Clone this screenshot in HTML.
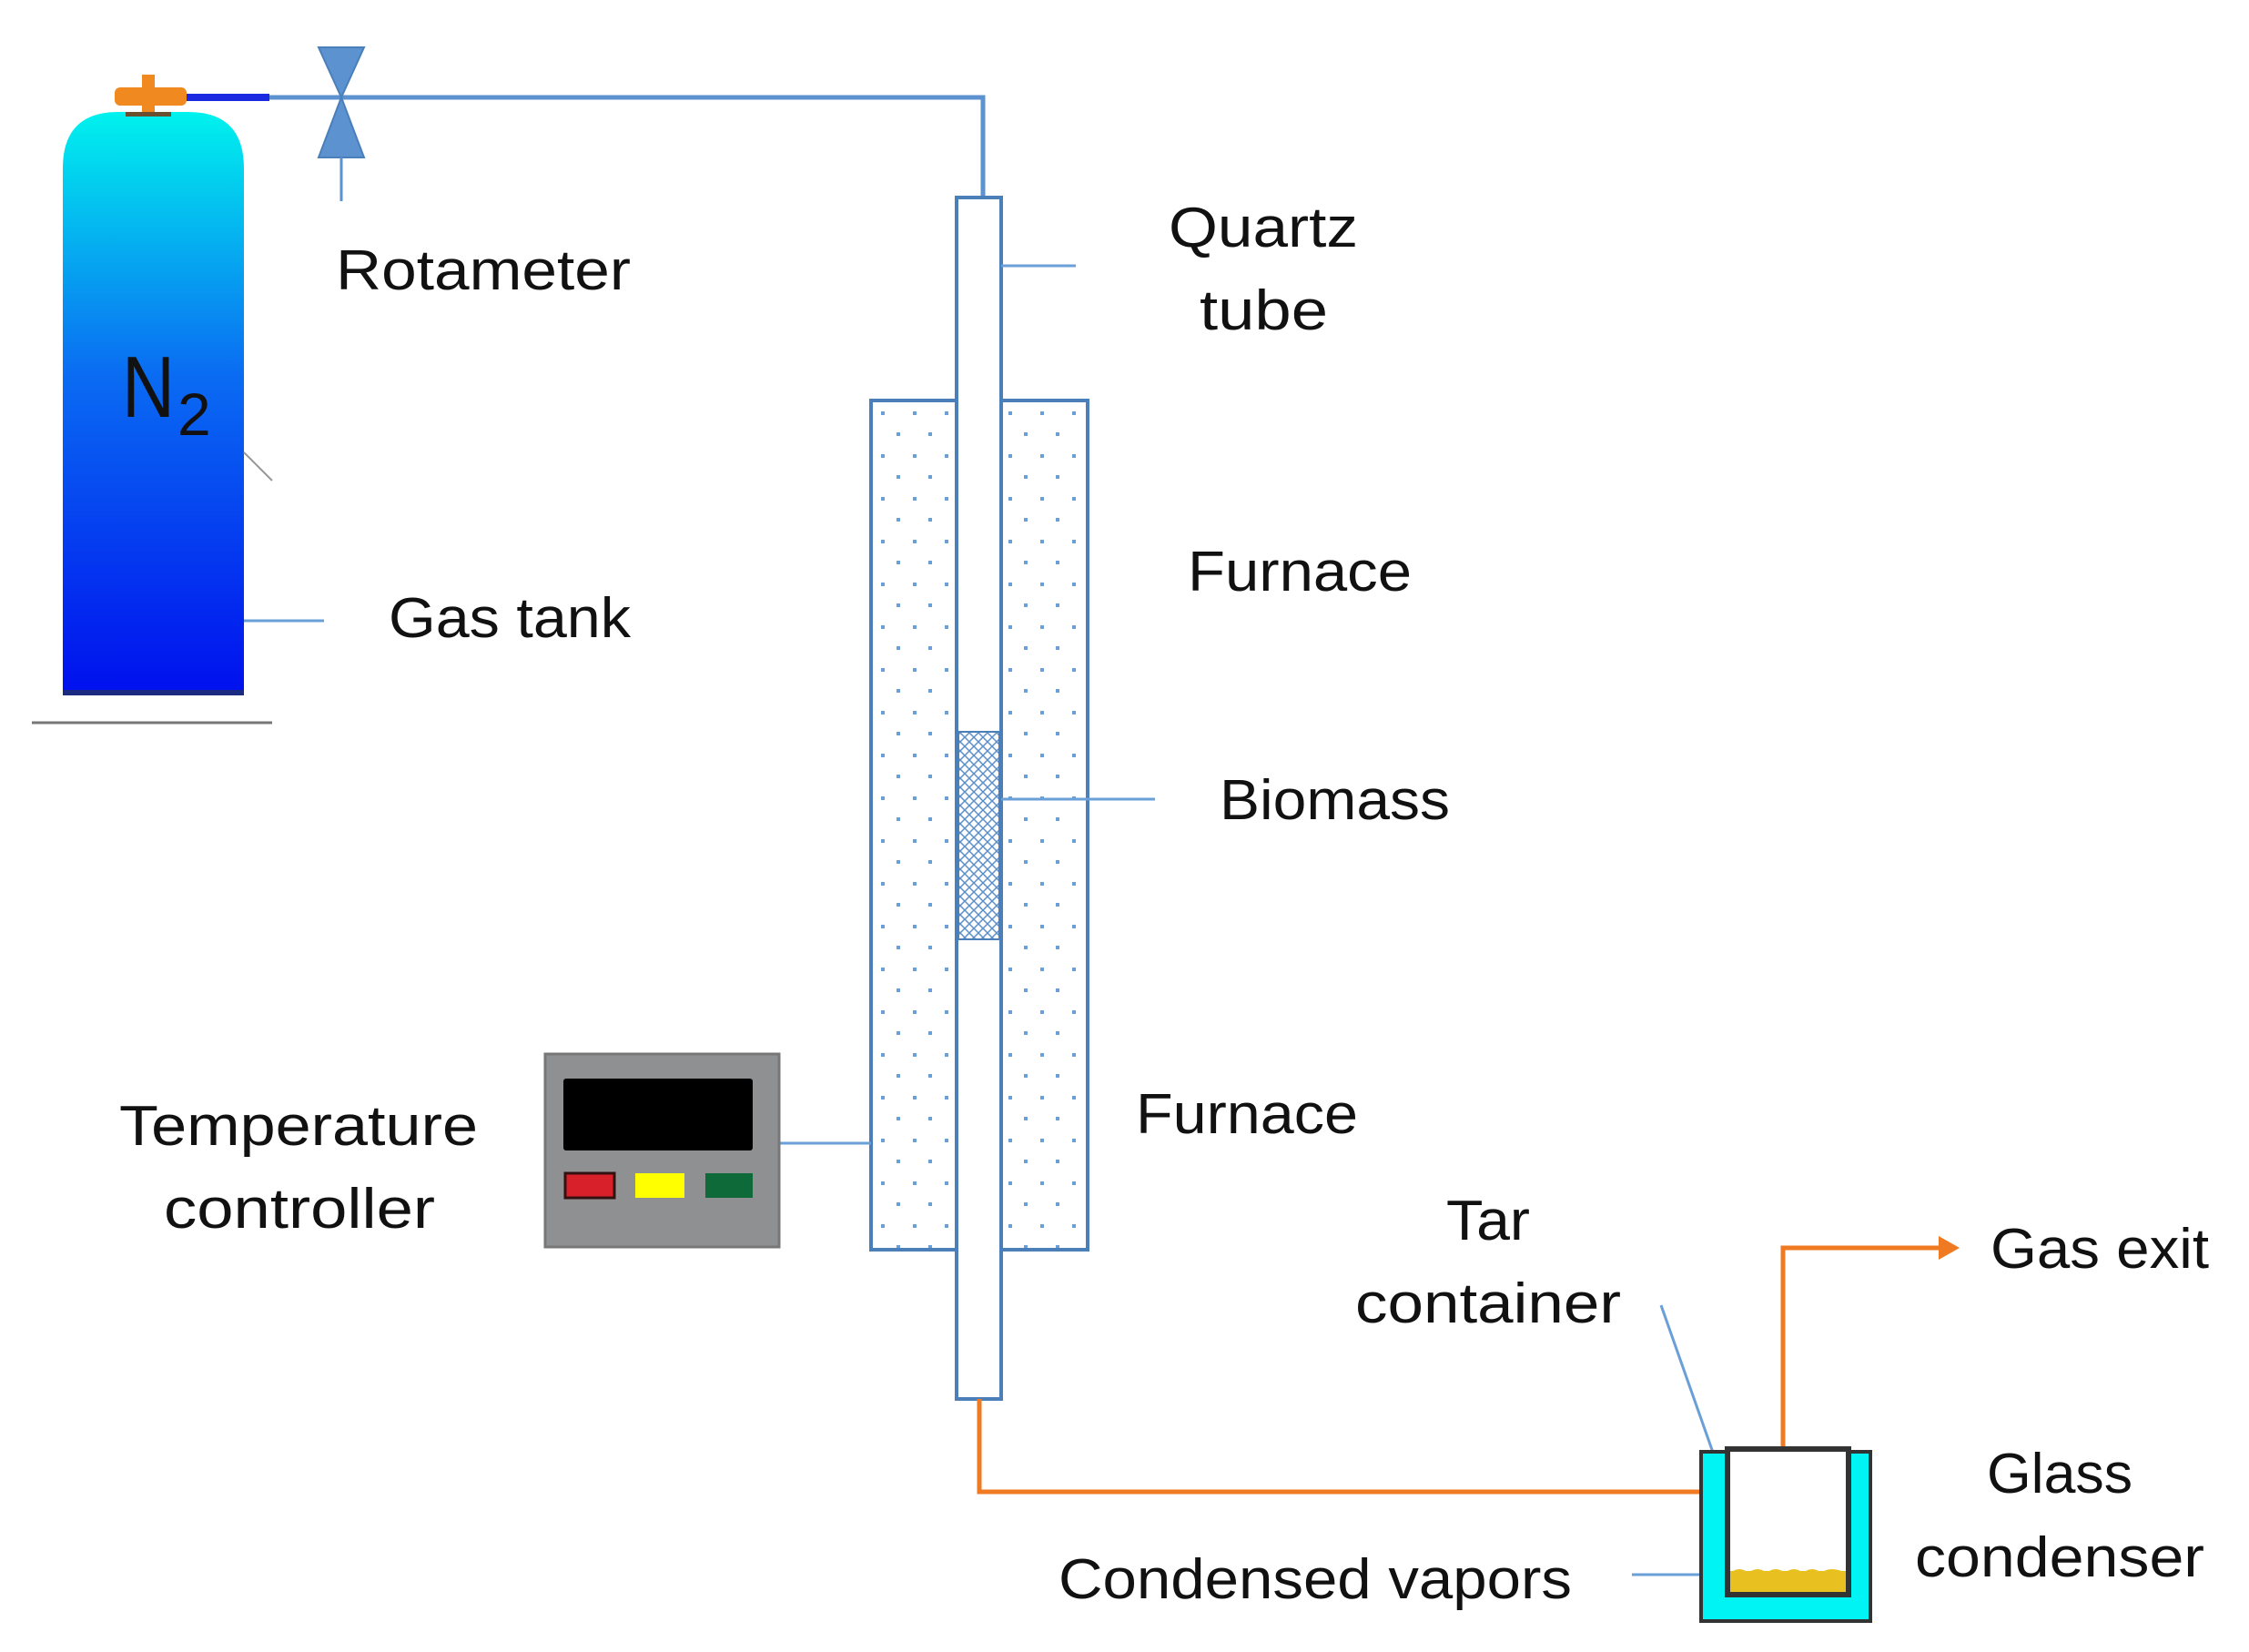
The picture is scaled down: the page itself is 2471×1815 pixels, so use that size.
<!DOCTYPE html>
<html><head><meta charset="utf-8"><style>html,body{margin:0;padding:0;background:#fff}svg{display:block}</style></head>
<body>
<svg width="2471" height="1815" viewBox="0 0 2471 1815" xmlns="http://www.w3.org/2000/svg" font-family="Liberation Sans, sans-serif" fill="#111">
<defs>
<linearGradient id="tg" x1="0" y1="0" x2="0" y2="1">
<stop offset="0" stop-color="#00f2ee"/><stop offset="0.45" stop-color="#0a6cf2"/><stop offset="1" stop-color="#0010ee"/></linearGradient>
<pattern id="dots" width="35" height="47" patternUnits="userSpaceOnUse" x="968" y="452">
<rect x="0" y="0" width="4" height="4" fill="#6a9fd8"/><rect x="17" y="23" width="4" height="4" fill="#6a9fd8"/></pattern>
<pattern id="hatch" width="10" height="10" patternUnits="userSpaceOnUse">
<path d="M0 0L10 10M10 0L0 10" stroke="#5b8fc8" stroke-width="1.5"/></pattern>
</defs>
<path d="M69 763 L69 185 Q69 123 130 123 L207 123 Q268 123 268 185 L268 763 Z" fill="url(#tg)"/>
<rect x="69" y="758" width="199" height="6" fill="#1a2a80"/>
<line x1="35" y1="794" x2="299" y2="794" stroke="#777" stroke-width="3"/>
<line x1="268" y1="497" x2="299" y2="528" stroke="#999" stroke-width="2"/>
<text x="134" y="458" font-size="96" textLength="58" lengthAdjust="spacingAndGlyphs">N</text><text x="195" y="478" font-size="66">2</text>
<rect x="126" y="96" width="79" height="20" rx="6" fill="#f08a20"/>
<rect x="156" y="82" width="14" height="44" fill="#f08a20"/>
<rect x="138" y="123" width="50" height="5" fill="#6b5030"/>
<rect x="205" y="103" width="91" height="8" fill="#1a2ae0"/>
<polyline points="296,107 1080,107 1080,217" fill="none" stroke="#5b92cf" stroke-width="5"/>
<polygon points="350,52 400,52 375,107" fill="#5b92cf" stroke="#4a7fba" stroke-width="2"/>
<polygon points="350,173 400,173 375,107" fill="#5b92cf" stroke="#4a7fba" stroke-width="2"/>
<line x1="375" y1="173" x2="375" y2="221" stroke="#5b92cf" stroke-width="3"/>
<rect x="957" y="440" width="238" height="933" fill="url(#dots)" stroke="#4a7fba" stroke-width="4"/>
<rect x="1051" y="217" width="49" height="1320" fill="#fff" stroke="#4a7fba" stroke-width="4"/>
<rect x="1053" y="804" width="45" height="228" fill="#fff"/>
<rect x="1053" y="804" width="45" height="228" fill="url(#hatch)" stroke="#4a7fba" stroke-width="2"/>
<g stroke="#6a9fd8" stroke-width="3">
<line x1="268" y1="682" x2="356" y2="682"/>
<line x1="1100" y1="292" x2="1182" y2="292"/>
<line x1="1100" y1="878" x2="1269" y2="878"/>
<line x1="856" y1="1256" x2="957" y2="1256"/>
<line x1="1825" y1="1434" x2="1886" y2="1607"/>
<line x1="1793" y1="1730" x2="1899" y2="1730"/>
</g>
<rect x="599" y="1158" width="257" height="212" fill="#8f9092" stroke="#777" stroke-width="3"/>
<rect x="619" y="1185" width="208" height="79" rx="3" fill="#000"/>
<rect x="621" y="1289" width="54" height="27" fill="#d8202a" stroke="#311" stroke-width="3"/>
<rect x="698" y="1289" width="54" height="27" fill="#ffff00"/>
<rect x="775" y="1289" width="52" height="27" fill="#0f6a3a"/>
<polyline points="1076,1537 1076,1639 1869,1639" fill="none" stroke="#f07a22" stroke-width="5"/>
<polyline points="1959,1592 1959,1371 2135,1371" fill="none" stroke="#f07a22" stroke-width="5"/>
<polygon points="2130,1358 2153,1371 2130,1384" fill="#f07a22"/>
<rect x="1869" y="1595" width="186" height="186" fill="#00f4f4" stroke="#333" stroke-width="4"/>
<rect x="1898" y="1592" width="133" height="160" fill="#fff" stroke="#333" stroke-width="6"/>
<rect x="1901" y="1726" width="127" height="23" fill="#e8c020"/>
<path d="M1901 1728 q10 -8 20 0 q10 -8 20 0 q10 -8 20 0 q10 -8 20 0 q10 -8 20 0 q10 -8 27 0" fill="#e8c020"/>
<g font-size="62">
<text x="369" y="318" textLength="324" lengthAdjust="spacingAndGlyphs">Rotameter</text>
<text x="427" y="700" textLength="266" lengthAdjust="spacingAndGlyphs">Gas tank</text>
<text x="1284" y="271" textLength="208" lengthAdjust="spacingAndGlyphs">Quartz</text>
<text x="1318" y="362" textLength="141" lengthAdjust="spacingAndGlyphs">tube</text>
<text x="1305" y="649" textLength="246" lengthAdjust="spacingAndGlyphs">Furnace</text>
<text x="1340" y="900" textLength="253" lengthAdjust="spacingAndGlyphs">Biomass</text>
<text x="1248" y="1245" textLength="244" lengthAdjust="spacingAndGlyphs">Furnace</text>
<text x="131" y="1258" textLength="394" lengthAdjust="spacingAndGlyphs">Temperature</text>
<text x="180" y="1349" textLength="298" lengthAdjust="spacingAndGlyphs">controller</text>
<text x="1589" y="1362" textLength="92" lengthAdjust="spacingAndGlyphs">Tar</text>
<text x="1489" y="1453" textLength="292" lengthAdjust="spacingAndGlyphs">container</text>
<text x="2187" y="1393" textLength="240" lengthAdjust="spacingAndGlyphs">Gas exit</text>
<text x="2183" y="1640" textLength="160" lengthAdjust="spacingAndGlyphs">Glass</text>
<text x="2104" y="1732" textLength="318" lengthAdjust="spacingAndGlyphs">condenser</text>
<text x="1163" y="1756" textLength="564" lengthAdjust="spacingAndGlyphs">Condensed vapors</text>
</g>
</svg>
</body></html>
